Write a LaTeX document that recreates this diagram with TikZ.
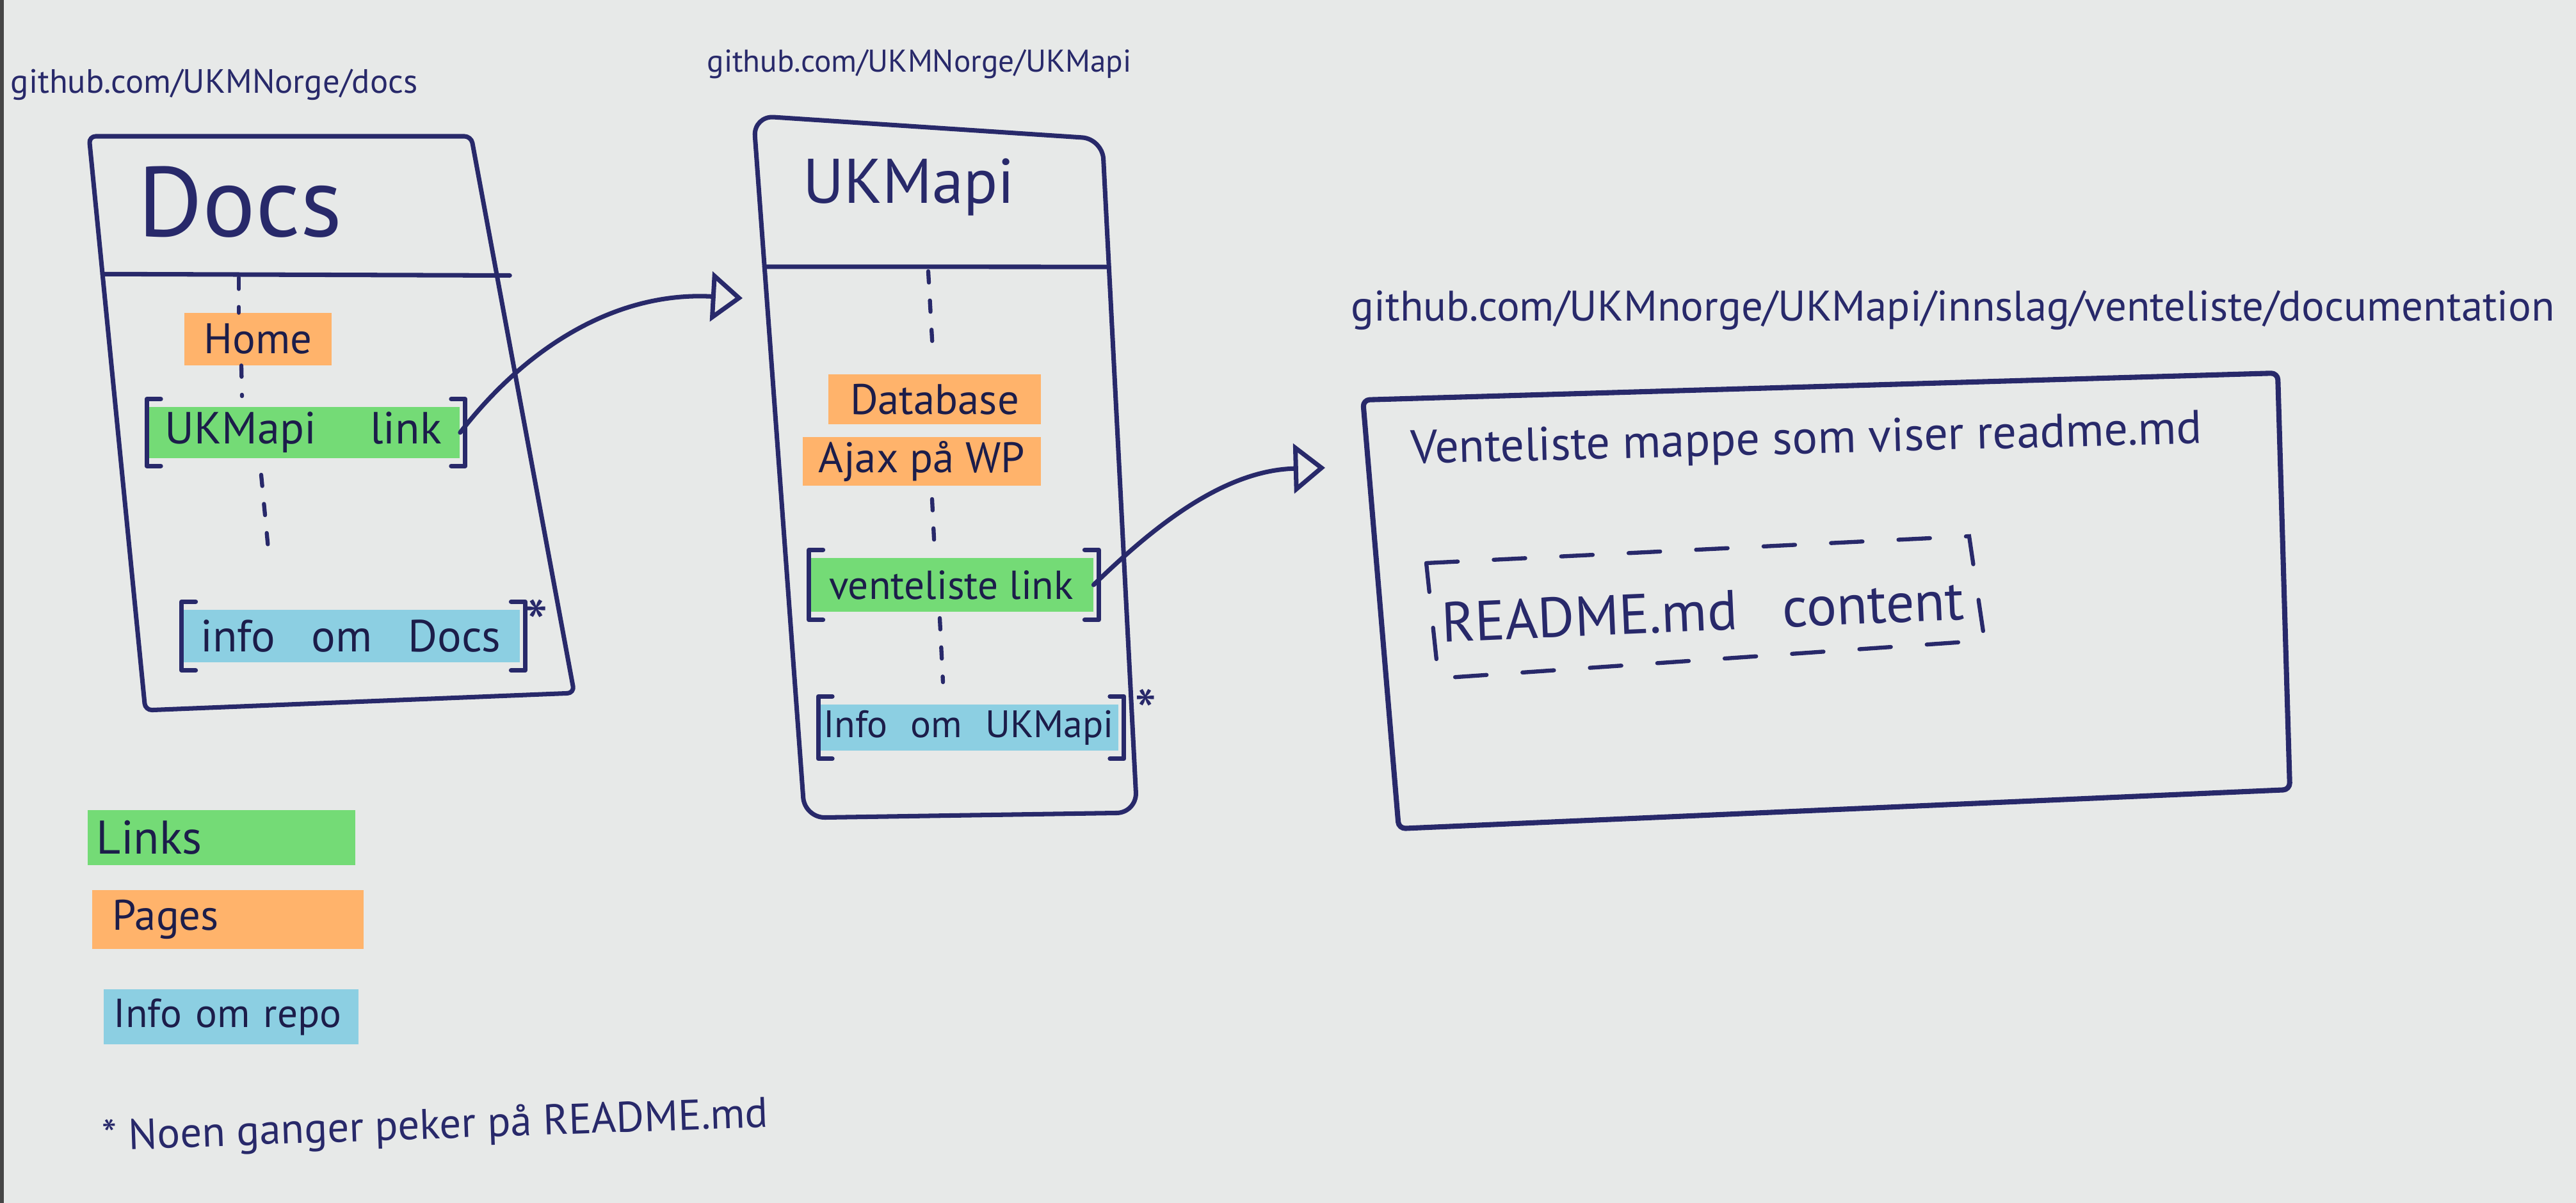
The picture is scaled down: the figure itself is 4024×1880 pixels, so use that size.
\documentclass[tikz,border=0pt]{standalone}
\usepackage{fontspec}
\setmainfont{PT Sans}
\usetikzlibrary{arrows.meta,calc}
\definecolor{paper}{HTML}{E7E9E8}
\definecolor{ink}{HTML}{28296A}
\definecolor{hlgreen}{HTML}{74DB76}
\definecolor{hlorange}{HTML}{FFB36B}
\definecolor{hlblue}{HTML}{8CCFE2}
\newcommand\fsz[1]{\fontsize{#1}{#1}\selectfont}
\newcommand\drawbrk[1]{%
  \draw[pen] ($(#1.north west)+(22,-12)$) -- ($(#1.north west)+(0,-12)$) -- ($(#1.south west)+(0,12)$) -- ($(#1.south west)+(22,12)$);
  \draw[pen] ($(#1.north east)+(-14,-12)$) -- ($(#1.north east)+(8,-12)$) -- ($(#1.south east)+(8,12)$) -- ($(#1.south east)+(-14,12)$);}
\begin{document}
\begin{tikzpicture}[x=0.01cm,y=-0.01cm,
  pen/.style={draw=ink, line width=2pt, line join=round, line cap=round},
  dots/.style={draw=ink, line width=1.8pt, line cap=round, dash pattern=on 5pt off 8pt},
  hl/.style={fill=#1, inner sep=0pt, text=ink!70!black},
  lbl/.style={text=ink, inner sep=0pt},
  arr/.style={pen, -{Triangle[open, length=14pt, width=22pt]}}
]
\fill[paper] (0,0) rectangle (4024,1880);
\useasboundingbox (0,0) rectangle (4024,1880);
\fill[gray!55!black] (0,0) rectangle (6,1880);

% ---------- Docs box ----------
\node[lbl, font=\fsz{15}, anchor=west] (url1) at (16,132) {github.com/UKMNorge/docs};
\coordinate (d1) at (139,213);
\coordinate (d2) at (736,213);
\coordinate (d3) at (897,1083);
\coordinate (d4) at (227,1110);
\draw[pen, rounded corners=3pt] (d1) -- (d2) -- (d3) -- (d4) -- cycle;
\draw[pen] ($(d1)!0.24!(d4)$) -- ($(d2)!0.25!(d3)+(20,0)$);
\node[lbl, font=\fsz{44}] (docs) at (375,316) {Docs};

\node[hl=hlorange, minimum width=23mm, minimum height=8.1mm, font=\fsz{19}] (home) at (403,530) {Home};
\node[hl=hlgreen, minimum width=48.8mm, minimum height=7.9mm, font=\fsz{20}] (uklink) at (474,676) {UKMapi\hspace{1.2em}link};
\node[hl=hlblue, minimum width=52.7mm, minimum height=8.2mm, font=\fsz{20}] (infodocs) at (548,994) {info\hspace{0.8em}om\hspace{0.8em}Docs};
\drawbrk{uklink}
\drawbrk{infodocs}
\node[lbl, font=\fsz{30}] (star1) at (838,975) {*};
\draw[dots] (373,434) -- (home.north -| 373,0);
\draw[dots] (home.south -| 377,0) -- (378,619);
\draw[dots] (408,742) -- (420,868);

% ---------- UKMapi box ----------
\node[lbl, font=\fsz{14}] (url2) at (1436,100) {github.com/UKMNorge/UKMapi};
\coordinate (u1) at (1177,181);
\coordinate (u2) at (1722,217);
\coordinate (u3) at (1776,1270);
\coordinate (u4) at (1257,1278);
\draw[pen, rounded corners=9pt] (u1) -- (u2) -- (u3) -- (u4) -- cycle;
\draw[pen] ($(u1)!0.215!(u4)$) -- ($(u2)!0.19!(u3)$);
\node[lbl, font=\fsz{28}] (ukmapi) at (1420,293) {UKMapi};

\node[hl=hlorange, minimum width=33.1mm, minimum height=7.7mm, font=\fsz{19}] (db) at (1460,624) {Database};
\node[hl=hlorange, minimum width=37.1mm, minimum height=7.6mm, font=\fsz{19}] (ajax) at (1440,721) {Ajax på WP};
\node[hl=hlgreen, minimum width=44.3mm, minimum height=8.4mm, font=\fsz{18}] (vlink) at (1486,914) {venteliste link};
\node[hl=hlblue, minimum width=46.8mm, minimum height=7.2mm, font=\fsz{17}] (infoukm) at (1513,1137) {Info\hspace{0.6em}om\hspace{0.6em}UKMapi};
\drawbrk{vlink}
\drawbrk{infoukm}
\node[lbl, font=\fsz{28}] (star2) at (1790,1112) {*};
\draw[dots] (1450,424) -- (1457,548);
\draw[dots] (1456,780) -- (1460,862);
\draw[dots] (1468,966) -- (1473,1066);

% ---------- Documentation box ----------
\node[lbl, font=\fsz{19}] (url3) at (3051,485) {github.com/UKMnorge/UKMapi/innslag/venteliste/documentation};
\coordinate (r1) at (2129,625);
\coordinate (r2) at (3558,583);
\coordinate (r3) at (3577,1234);
\coordinate (r4) at (2185,1295);
\draw[pen, line width=2.3pt, rounded corners=3pt] (r1) -- (r2) -- (r3) -- (r4) -- cycle;
\node[lbl, font=\fsz{21}, rotate=1.5] (vmappe) at (2822,690) {Venteliste mappe som viser readme.md};
\coordinate (c1) at (2228,880);
\coordinate (c2) at (3076,838);
\coordinate (c3) at (3100,1001);
\coordinate (c4) at (2247,1060);
\draw[draw=ink, line width=1.8pt, line cap=round, dash pattern=on 14pt off 16pt] (c1) -- (c2) -- (c3) -- (c4) -- cycle;
\node[lbl, font=\fsz{25}, rotate=2.5] (readme) at (2660,955) {README.md\hspace{0.8em}content};

% ---------- connectors ----------
\coordinate (a1end) at (1160,466);
\coordinate (a2end) at (2070,731);
\draw[arr] (uklink.east) .. controls (820,545) and (960,455) .. (a1end);
\draw[arr] (vlink.east) .. controls (1800,825) and (1910,735) .. (a2end);

% ---------- legend ----------
\node[hl=hlgreen, minimum width=41.8mm, minimum height=8.6mm, text width=39mm, align=left, font=\fsz{21}] (lglinks) at (346,1309) {Links};
\node[hl=hlorange, minimum width=42.3mm, minimum height=9.2mm, text width=36mm, align=left, font=\fsz{19}] (lgpages) at (356,1437) {Pages};
\node[hl=hlblue, minimum width=39.8mm, minimum height=8.6mm, text width=36.6mm, align=left, font=\fsz{18}] (lginfo) at (361,1589) {Info om repo};
\node[lbl, font=\fsz{19}, rotate=2] (note) at (680,1762) {* Noen ganger peker på README.md};
\end{tikzpicture}
\end{document}
